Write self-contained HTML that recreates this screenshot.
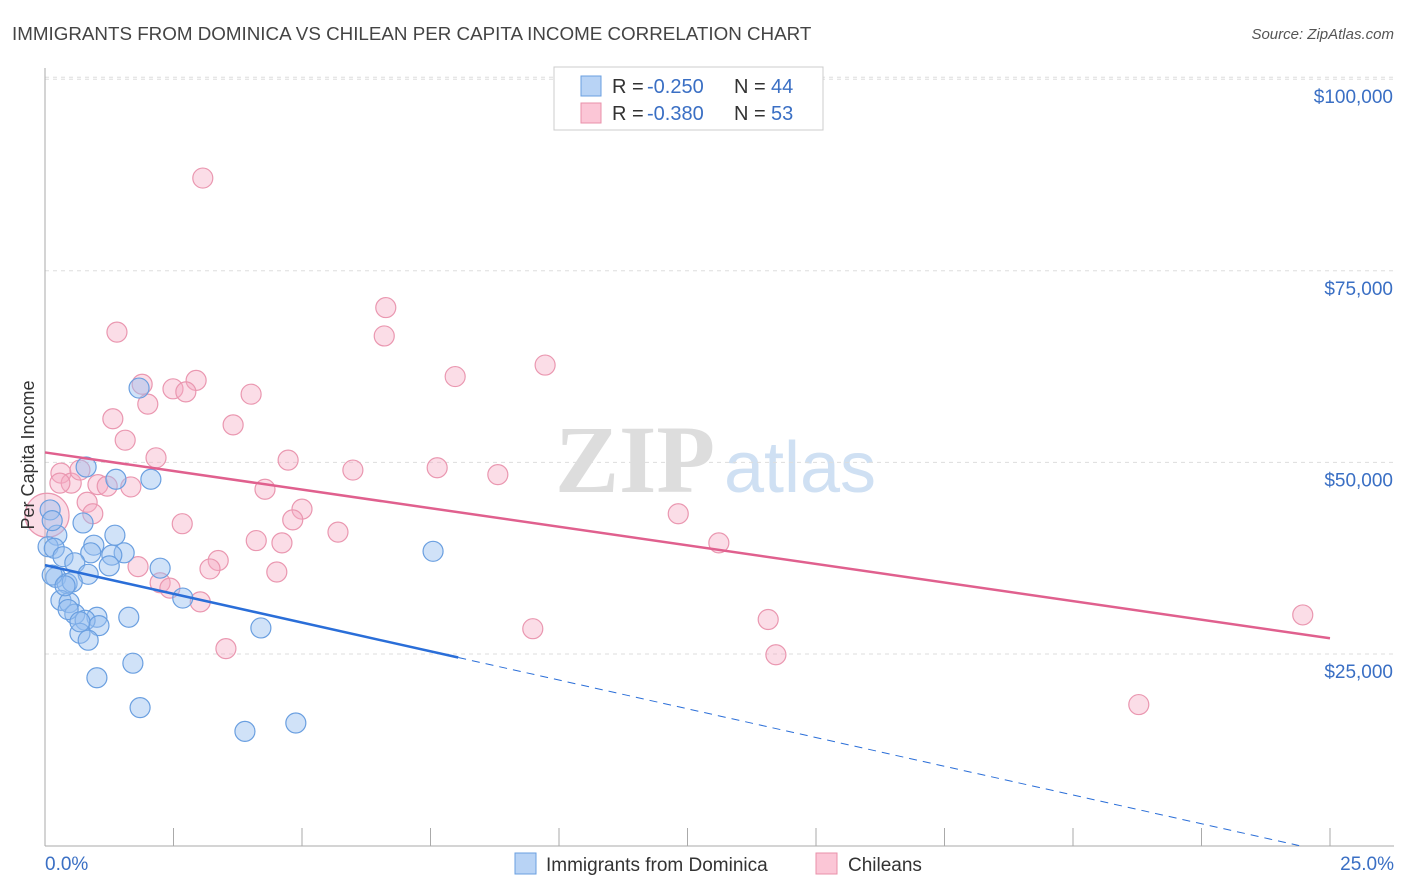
<!DOCTYPE html>
<html><head><meta charset="utf-8"><style>
body{margin:0;background:#fff;font-family:"Liberation Sans",sans-serif}
svg{display:block}
</style></head><body>
<svg id="chart" width="1406" height="892" xmlns="http://www.w3.org/2000/svg">
<text x="12" y="40" font-size="18.8" fill="#444">IMMIGRANTS FROM DOMINICA VS CHILEAN PER CAPITA INCOME CORRELATION CHART</text>
<text x="1394" y="39" font-size="15" fill="#555" text-anchor="end" font-style="italic">Source: ZipAtlas.com</text>
<g>
<text x="635" y="492" font-size="96" fill="#ddd" text-anchor="middle" font-family="Liberation Serif" font-weight="bold">ZIP</text>
<text x="800" y="492" font-size="72" fill="#cfe0f3" text-anchor="middle">atlas</text></g>
<g id="grid"></g><g id="axes"></g><g id="marks"></g><g id="lines"></g>
<text transform="translate(34,455) rotate(-90)" font-size="18" fill="#333" text-anchor="middle">Per Capita Income</text>
<g>
<rect x="554" y="67" width="269" height="63" fill="#fff" stroke="#ccc"/>
<rect x="581" y="76" width="20" height="20" fill="#b8d3f5" stroke="#6a9fe0"/>
<rect x="581" y="103" width="20" height="20" fill="#fbc6d6" stroke="#e890aa"/>
<text x="612" y="93" font-size="20" fill="#333">R =</text>
<text x="647" y="93" font-size="20" fill="#3a6fc4">-0.250</text>
<text x="734" y="93" font-size="20" fill="#333">N =</text>
<text x="771" y="93" font-size="20" fill="#3a6fc4">44</text>
<text x="612" y="120" font-size="20" fill="#333">R =</text>
<text x="647" y="120" font-size="20" fill="#3a6fc4">-0.380</text>
<text x="734" y="120" font-size="20" fill="#333">N =</text>
<text x="771" y="120" font-size="20" fill="#3a6fc4">53</text>
</g>
<g>
<rect x="515" y="853" width="21" height="21" fill="#b8d3f5" stroke="#6a9fe0"/>
<text x="546" y="871" font-size="19" fill="#333">Immigrants from Dominica</text>
<rect x="816" y="853" width="21" height="21" fill="#fbc6d6" stroke="#e890aa"/>
<text x="848" y="871" font-size="19" fill="#333">Chileans</text>
</g>
</svg>
<script>
const yTicks=[25,50,75,100];
const yTickLabels=["$25,000","$50,000","$75,000","$100,000"];
const xTickLabels=["0.0%","25.0%"];
const blueX=[1.83,1.38,2.06,0.80,0.10,0.74,0.23,1.36,0.06,0.95,0.18,0.35,0.89,1.54,1.30,0.58,1.25,2.24,0.84,0.21,0.43,0.53,0.31,0.47,2.68,0.58,1.01,1.63,0.78,1.05,0.68,0.84,4.20,1.71,1.01,1.85,3.89,4.88,7.55,0.14,0.14,0.39,0.45,0.68];
const blueY=[59.7,47.8,47.8,49.4,43.8,42.1,40.5,40.5,39.0,39.2,38.8,37.7,38.2,38.2,37.9,36.9,36.5,36.2,35.4,35.0,34.2,34.4,32.0,31.7,32.3,30.2,29.8,29.8,29.4,28.7,27.7,26.8,28.4,23.8,21.9,18.0,14.9,16.0,38.4,42.4,35.3,33.9,30.8,29.2];
const pinkX=[3.07,1.40,6.63,6.60,9.73,7.98,1.89,2.94,2.49,2.74,4.01,2.00,1.32,3.66,1.56,2.16,4.73,5.99,7.63,8.81,0.31,0.51,0.68,1.03,1.21,1.67,4.28,0.82,0.93,2.67,5.00,4.82,5.70,12.32,13.11,4.11,4.61,3.37,3.21,4.51,1.81,2.24,2.43,3.02,9.49,14.07,14.22,3.52,21.28,24.47,0.04,0.29];
const pinkY=[87.1,67.0,70.2,66.5,62.7,61.2,60.2,60.7,59.6,59.2,58.9,57.6,55.7,54.9,52.9,50.6,50.3,49.0,49.3,48.4,48.6,47.3,49.0,47.1,46.9,46.8,46.5,44.8,43.3,42.0,43.9,42.5,40.9,43.3,39.5,39.8,39.5,37.2,36.1,35.7,36.4,34.3,33.6,31.8,28.3,29.5,24.9,25.7,18.4,30.1,43.1,47.3];
const pinkR=[10,10,10,10,10,10,10,10,10,10,10,10,10,10,10,10,10,10,10,10,10,10,10,10,10,10,10,10,10,10,10,10,10,10,10,10,10,10,10,10,10,10,10,10,10,10,10,10,10,10,22,10];
const blueTrend=[36.6,-1.5,8.04,24.4];
const pinkTrend=[51.3,-0.97,25];
const X=v=>45+v*51.4, Y=v=>845.6-v*7.664;
const NS="http://www.w3.org/2000/svg";
function mk(t,p,a){const e=document.createElementNS(NS,t);for(const k in a)e.setAttribute(k,a[k]);p.appendChild(e);return e;}
const grid=document.getElementById('grid'),axes=document.getElementById('axes'),marks=document.getElementById('marks'),lines=document.getElementById('lines');
yTicks.forEach((t,i)=>{
 const g=mk('line',grid,{x1:45,x2:1394,y1:Y(t),y2:Y(t),stroke:'#ddd','stroke-dasharray':'4,4'});
 
 
 const l=mk('text',axes,{x:1393,y:Y(t)+24,'font-size':19,fill:'#3a6fc4','text-anchor':'end'});l.textContent=yTickLabels[i];
 
 
});
const tg=mk('line',grid,{x1:45,x2:1394,y1:Y(100)-2,y2:Y(100)-2,stroke:'#ddd','stroke-dasharray':'4,4'});
const ax=mk('line',axes,{x1:45,x2:45,y1:68,y2:846,stroke:'#aaa'});


const bx=mk('line',axes,{x1:45,x2:1394,y1:846,y2:846,stroke:'#aaa'});


for(let i=0;i<=10;i++){const t=mk('line',axes,{x1:X(i*2.5),x2:X(i*2.5),y1:828,y2:846,stroke:'#aaa'});
 
 }
const xl0=mk('text',axes,{x:45,y:870,'font-size':19,fill:'#3a6fc4'});xl0.textContent=xTickLabels[0];


const xl1=mk('text',axes,{x:1394,y:870,'font-size':19,fill:'#3a6fc4','text-anchor':'end'});xl1.textContent=xTickLabels[1];


pinkX.forEach((v,i)=>{const c=mk('circle',marks,{cx:X(v),cy:Y(pinkY[i]),r:pinkR[i],fill:'rgba(246,170,195,0.4)',stroke:'#ea97b0','stroke-width':1.2});
 
 });
blueX.forEach((v,i)=>{const c=mk('circle',marks,{cx:X(v),cy:Y(blueY[i]),r:10,fill:'rgba(150,190,240,0.45)',stroke:'#6a9fe0','stroke-width':1.2});
 
 });
const bt=blueTrend;
const b1=mk('line',lines,{x1:X(0),y1:Y(bt[0]),x2:X(bt[2]),y2:Y(bt[0]+bt[1]*bt[2]),stroke:'#2a6ed8','stroke-width':2.5});


const b2=mk('line',lines,{x1:X(bt[2]),y1:Y(bt[0]+bt[1]*bt[2]),x2:X(bt[3]),y2:Y(bt[0]+bt[1]*bt[3]),stroke:'#2a6ed8','stroke-width':1,'stroke-dasharray':'8,6'});


const pt=pinkTrend;
const p1=mk('line',lines,{x1:X(0),y1:Y(pt[0]),x2:X(pt[2]),y2:Y(pt[0]+pt[1]*pt[2]),stroke:'#e0608e','stroke-width':2.5});


</script>
</body></html>
